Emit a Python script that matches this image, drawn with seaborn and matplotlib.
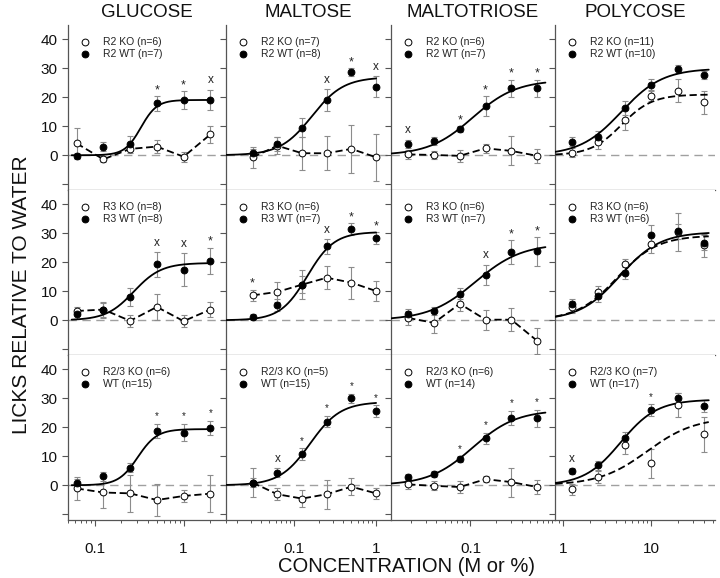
import numpy as np
import matplotlib
matplotlib.use("Agg")
import matplotlib.pyplot as plt
import seaborn as sns
from matplotlib.ticker import FixedLocator, FuncFormatter, NullFormatter, LogLocator

# ---------------- data ----------------
sugars = ["GLUCOSE", "MALTOSE", "MALTOTRIOSE", "POLYCOSE"]
conc_glucose = [0.0625, 0.125, 0.25, 0.5, 1, 2]
conc_maltose = [0.03125, 0.0625, 0.125, 0.25, 0.5, 1]
conc_maltotriose = [0.01875, 0.0375, 0.075, 0.15, 0.3, 0.6]
conc_polycose = [1.25, 2.5, 5, 10, 20, 40]
x_tick_values = [[0.1, 1], [0.1, 1], [0.1], [1, 10]]
y_tick_values = [-10, 0, 10, 20, 30, 40]
y_tick_labels = ["", "0", "10", "20", "30", "40"]

# Row 1: R2
r2_glu_ko = [4.1, -1.4, 2.2, 3.0, -0.5, 7.2];   r2_glu_ko_se = [5.2, 1.0, 1.5, 2.2, 1.7, 2.9]
r2_glu_wt = [-0.2, 3.0, 3.9, 17.9, 19.1, 19.1]; r2_glu_wt_se = [1.0, 1.7, 2.6, 2.5, 3.1, 3.6]
r2_glu_sig = ["", "", "", "*", "*", "x"]
r2_mal_ko = [-0.7, 3.3, 0.7, 0.7, 2.2, -0.7];   r2_mal_ko_se = [3.7, 2.9, 5.7, 5.9, 8.2, 8.2]
r2_mal_wt = [0.7, 3.8, 9.5, 19.1, 28.7, 23.7];  r2_mal_wt_se = [1.5, 2.5, 3.3, 3.7, 1.4, 3.7]
r2_mal_sig = ["", "", "", "x", "*", "x"]
r2_mtr_ko = [0.3, 0.1, -0.2, 2.4, 1.5, -0.2];   r2_mtr_ko_se = [1.5, 1.5, 2.0, 1.5, 5.0, 2.5]
r2_mtr_wt = [3.9, 4.9, 9.0, 17.0, 23.1, 23.1];  r2_mtr_wt_se = [1.5, 1.5, 1.0, 3.5, 3.0, 3.0]
r2_mtr_sig = ["x", "", "*", "*", "*", "*"]
r2_pol_ko = [0.9, 4.7, 12.2, 20.6, 22.3, 18.3]; r2_pol_ko_se = [1.5, 2.5, 3.5, 2.0, 4.0, 4.0]
r2_pol_wt = [4.7, 6.4, 16.4, 24.3, 29.8, 27.7]; r2_pol_wt_se = [1.5, 2.0, 2.5, 2.0, 1.5, 1.5]
r2_pol_sig = ["", "", "", "", "", ""]

# Row 2: R3
r3_glu_ko = [3.2, 3.7, -0.2, 4.6, -0.3, 3.7];   r3_glu_ko_se = [1.5, 2.5, 2.0, 4.5, 2.0, 2.5]
r3_glu_wt = [2.0, 3.4, 8.0, 19.3, 17.5, 20.5];  r3_glu_wt_se = [1.5, 2.5, 3.0, 4.3, 5.6, 4.6]
r3_glu_sig = ["", "", "", "x", "x", "*"]
r3_mal_ko = [8.6, 9.8, 12.3, 14.7, 13.0, 10.1]; r3_mal_ko_se = [2.0, 3.5, 5.0, 4.0, 5.5, 3.5]
r3_mal_wt = [1.1, 5.2, 12.3, 25.5, 31.6, 28.4]; r3_mal_wt_se = [1.0, 2.0, 3.0, 2.5, 2.0, 2.0]
r3_mal_sig = ["*", "", "", "x", "*", "*"]
r3_mtr_ko = [0.8, -0.9, 5.7, 0.2, 0.2, -7.1];   r3_mtr_ko_se = [2.5, 3.5, 2.5, 3.5, 4.0, 4.5]
r3_mtr_wt = [2.3, 3.2, 9.2, 15.7, 23.6, 23.8];  r3_mtr_wt_se = [1.5, 1.5, 2.0, 3.5, 4.0, 5.0]
r3_mtr_sig = ["", "", "", "x", "*", "*"]
r3_pol_ko = [4.6, 9.8, 19.3, 26.2, 30.5, 25.9]; r3_pol_ko_se = [2.0, 2.0, 2.0, 3.0, 6.5, 4.0]
r3_pol_wt = [5.7, 8.3, 16.4, 29.3, 30.7, 26.8]; r3_pol_wt_se = [1.5, 2.0, 2.0, 3.5, 2.5, 2.5]
r3_pol_sig = ["", "", "", "", "", ""]

# Row 3: R2/3
r23_glu_ko = [-1.1, -2.5, -2.8, -5.1, -3.7, -2.9]; r23_glu_ko_se = [4.0, 5.5, 6.5, 5.5, 2.0, 6.5]
r23_glu_wt = [0.7, 3.1, 6.1, 18.7, 18.2, 19.7];    r23_glu_wt_se = [1.5, 1.5, 1.5, 2.5, 3.0, 2.5]
r23_glu_sig = ["", "", "", "*", "*", "*"]
r23_mal_ko = [0.9, -3.1, -4.6, -3.1, -0.5, -2.8];  r23_mal_ko_se = [5.0, 2.0, 3.0, 5.0, 3.0, 2.0]
r23_mal_wt = [0.9, 4.4, 10.7, 22.0, 30.0, 25.6];   r23_mal_wt_se = [1.5, 1.5, 2.0, 2.0, 1.5, 2.0]
r23_mal_sig = ["", "x", "*", "*", "*", "*"]
r23_mtr_ko = [0.3, -0.2, -0.6, 2.1, 1.1, -0.6];    r23_mtr_ko_se = [1.5, 1.5, 2.0, 1.0, 5.0, 2.5]
r23_mtr_wt = [2.9, 3.8, 9.0, 16.2, 23.3, 23.1];    r23_mtr_wt_se = [1.0, 1.0, 1.0, 2.0, 2.5, 3.0]
r23_mtr_sig = ["", "", "*", "*", "*", "*"]
r23_pol_ko = [-1.4, 2.9, 13.9, 7.6, 27.7, 17.6];   r23_pol_ko_se = [2.0, 2.0, 3.0, 5.0, 4.0, 6.0]
r23_pol_wt = [4.9, 6.9, 16.4, 26.0, 30.0, 27.4];   r23_pol_wt_se = [1.0, 1.5, 2.0, 2.0, 2.0, 2.0]
r23_pol_sig = ["x", "", "", "*", "", ""]

# legend texts
legend_ko = [["R2 KO (n=6)", "R2 KO (n=7)", "R2 KO (n=6)", "R2 KO (n=11)"],
             ["R3 KO (n=8)", "R3 KO (n=6)", "R3 KO (n=6)", "R3 KO (n=6)"],
             ["R2/3 KO (n=6)", "R2/3 KO (n=5)", "R2/3 KO (n=6)", "R2/3 KO (n=7)"]]
legend_wt = [["R2 WT (n=7)", "R2 WT (n=8)", "R2 WT (n=7)", "R2 WT (n=10)"],
             ["R3 WT (n=8)", "R3 WT (n=7)", "R3 WT (n=7)", "R3 WT (n=6)"],
             ["WT (n=15)", "WT (n=15)", "WT (n=14)", "WT (n=17)"]]

# fitted sigmoid parameters (top, EC50, Hill)
wt_fit = [[(19.1, 0.33, 4.8), (27.0, 0.165, 2.25), (26.0, 0.106, 1.7), (30.0, 4.58, 1.85)],
          [(19.8, 0.275, 2.8), (30.5, 0.145, 2.65), (26.5, 0.114, 1.6), (30.5, 4.4, 1.9)],
          [(19.4, 0.305, 4.0), (28.8, 0.157, 2.35), (26.0, 0.106, 1.7), (29.6, 4.5, 2.1)]]
ko_fit_polycose = [(21.0, 4.6, 2.5), (29.3, 4.1, 1.9), (23.5, 9.0, 1.6)]

# ---------------- assemble ----------------
concs = [conc_glucose, conc_maltose, conc_maltotriose, conc_polycose]
ko = [[r2_glu_ko, r2_mal_ko, r2_mtr_ko, r2_pol_ko],
      [r3_glu_ko, r3_mal_ko, r3_mtr_ko, r3_pol_ko],
      [r23_glu_ko, r23_mal_ko, r23_mtr_ko, r23_pol_ko]]
ko_se = [[r2_glu_ko_se, r2_mal_ko_se, r2_mtr_ko_se, r2_pol_ko_se],
         [r3_glu_ko_se, r3_mal_ko_se, r3_mtr_ko_se, r3_pol_ko_se],
         [r23_glu_ko_se, r23_mal_ko_se, r23_mtr_ko_se, r23_pol_ko_se]]
wt = [[r2_glu_wt, r2_mal_wt, r2_mtr_wt, r2_pol_wt],
      [r3_glu_wt, r3_mal_wt, r3_mtr_wt, r3_pol_wt],
      [r23_glu_wt, r23_mal_wt, r23_mtr_wt, r23_pol_wt]]
wt_se = [[r2_glu_wt_se, r2_mal_wt_se, r2_mtr_wt_se, r2_pol_wt_se],
         [r3_glu_wt_se, r3_mal_wt_se, r3_mtr_wt_se, r3_pol_wt_se],
         [r23_glu_wt_se, r23_mal_wt_se, r23_mtr_wt_se, r23_pol_wt_se]]
sig = [[r2_glu_sig, r2_mal_sig, r2_mtr_sig, r2_pol_sig],
       [r3_glu_sig, r3_mal_sig, r3_mtr_sig, r3_pol_sig],
       [r23_glu_sig, r23_mal_sig, r23_mtr_sig, r23_pol_sig]]

xlims = [(0.05, 3.0), (0.0148, 1.52), (0.0118, 0.97), (0.81, 53)]
curve_ranges = [(0.055, 2.0), (0.015, 1.0), (0.012, 0.75), (0.82, 45)]
ylim = (-12, 45)


def logistic(x, top, ec50, hill):
    return top / (1.0 + (ec50 / x) ** hill)


sns.set_theme(style="ticks")
plt.rcParams["font.family"] = ["Liberation Sans", "DejaVu Sans"]

W, H = 720, 578
fig, axes = plt.subplots(3, 4, figsize=(W / 100, H / 100), dpi=100,
                         gridspec_kw=dict(width_ratios=[158, 165, 164, 160],
                                          wspace=0, hspace=0))
fig.subplots_adjust(left=68 / W, right=715 / W, top=1 - 25 / H, bottom=1 - 520 / H)

spine_c = "#555555"
err_c = "#8c8c8c"
for r in range(3):
    for c in range(4):
        ax = axes[r, c]
        x = np.array(concs[c])
        yk, ek = np.array(ko[r][c]), np.array(ko_se[r][c])
        yw, ew = np.array(wt[r][c]), np.array(wt_se[r][c])

        ax.set_xscale("log")
        ax.set_xlim(*xlims[c])
        ax.set_ylim(*ylim)
        ax.axhline(0, color="#a0a0a0", lw=1.0, ls=(0, (6, 4)), zorder=1)

        ax.errorbar(x, yk, yerr=ek, fmt="none", ecolor=err_c, elinewidth=0.8,
                    capsize=2, capthick=0.8, zorder=2)
        ax.errorbar(x, yw, yerr=ew, fmt="none", ecolor=err_c, elinewidth=0.8,
                    capsize=2, capthick=0.8, zorder=2)

        xs = np.geomspace(*curve_ranges[c], 200)
        sns.lineplot(x=xs, y=logistic(xs, *wt_fit[r][c]), ax=ax, color="black",
                     lw=1.3, zorder=3, estimator=None, sort=False)
        if c < 3:
            sns.lineplot(x=x, y=yk, ax=ax, color="black", lw=1.3,
                         linestyle=(0, (4, 2)), zorder=3, estimator=None, sort=False)
        else:
            sns.lineplot(x=xs, y=logistic(xs, *ko_fit_polycose[r]), ax=ax,
                         color="black", lw=1.3, linestyle=(0, (4, 2)), zorder=3,
                         estimator=None, sort=False)

        sns.scatterplot(x=x, y=yk, ax=ax, s=24, color="white", edgecolor="black",
                        linewidth=0.7, zorder=4)
        sns.scatterplot(x=x, y=yw, ax=ax, s=24, color="black", edgecolor="black",
                        linewidth=0.7, zorder=5)

        # significance marks
        star_fs = 9 if r < 2 else 7
        for xi, s, a, ea, b, eb in zip(x, sig[r][c], yw, ew, yk, ek):
            if not s:
                continue
            top = max(a + ea, b + eb)
            off = 1.0 if s == "*" else 2.2
            if r == 2 and s == "*":
                off = 1.6
            ax.text(xi, top + off, s, ha="center", va="baseline",
                    fontsize=star_fs if s == "*" else 8.5, color="#222222", zorder=6)

        # legend
        pos = ax.get_position()
        wpx, hpx = pos.width * W, pos.height * H
        for k, (lab, fc) in enumerate([(legend_ko[r][c], "white"),
                                       (legend_wt[r][c], "black")]):
            yy = 1 - (17 + 12 * k) / hpx
            ax.scatter([17 / wpx], [yy], s=24, facecolor=fc, edgecolor="black",
                       linewidth=0.7, transform=ax.transAxes, clip_on=False, zorder=6)
            ax.text(35 / wpx, yy, lab, transform=ax.transAxes, va="center",
                    ha="left", fontsize=7.5, color="#222222")

        # axes styling
        for sp in ["top", "right"]:
            ax.spines[sp].set_visible(False)
        for sp in ["left", "bottom"]:
            ax.spines[sp].set_color(spine_c)
            ax.spines[sp].set_linewidth(0.9)
        ax.set_yticks(y_tick_values)
        ax.set_yticklabels(y_tick_labels)
        ax.xaxis.set_major_locator(FixedLocator(x_tick_values[c]))
        ax.xaxis.set_minor_locator(LogLocator(base=10, subs=np.arange(2, 10)))
        ax.xaxis.set_major_formatter(FuncFormatter(lambda v, p: f"{v:g}"))
        ax.xaxis.set_minor_formatter(NullFormatter())
        ax.tick_params(axis="both", which="major", direction="out", length=4,
                       width=0.8, color=spine_c, labelsize=11, labelcolor="#111111")
        ax.tick_params(axis="x", which="major", pad=12)
        ax.tick_params(axis="x", which="minor", direction="out", length=2.5,
                       width=0.7, color=spine_c)
        ax.tick_params(axis="y", which="minor", left=False)
        ax.tick_params(labelleft=(c == 0), labelbottom=(r == 2))
        ax.set_xlabel("")
        ax.set_ylabel("")
        if r == 0:
            ax.set_title(sugars[c], fontsize=13.5, pad=6, color="#111111")

fig.text(22 / W, 1 - 295 / H, "LICKS RELATIVE TO WATER", rotation=90,
         ha="center", va="center", fontsize=15, color="#111111")
fig.text(407 / W, 1 - 566 / H, "CONCENTRATION (M or %)", ha="center",
         va="center", fontsize=14.5, color="#111111")

fig.savefig("out.png", dpi=100)
